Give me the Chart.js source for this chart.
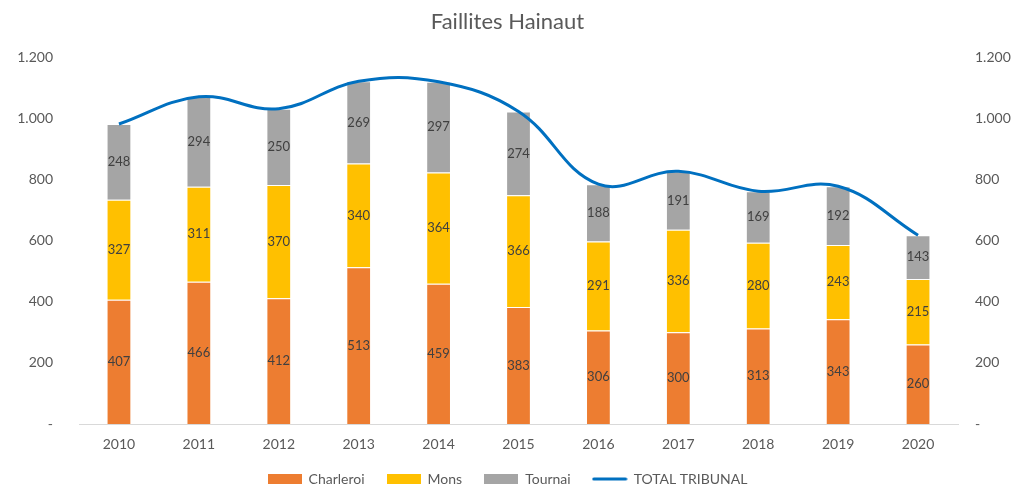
<!DOCTYPE html>
<html>
<head>
<meta charset="utf-8">
<script src="https://cdn.jsdelivr.net/npm/chart.js@4"></script>
<style>
  html, body { margin: 0; padding: 0; background: #fff; }
  canvas { display: block; }
</style>
</head>
<body>
<canvas id="chart" width="1015" height="488"></canvas>
<script>
/* ── data ── */
const YEARS     = ["2010", "2011", "2012", "2013", "2014", "2015", "2016", "2017", "2018", "2019", "2020"];
const CHARLEROI = [407, 466, 412, 513, 459, 383, 306, 300, 313, 343, 260];
const MONS      = [327, 311, 370, 340, 364, 366, 291, 336, 280, 243, 215];
const TOURNAI   = [248, 294, 250, 269, 297, 274, 188, 191, 169, 192, 143];
const TOTAL     = [982, 1071, 1032, 1122, 1120, 1023, 785, 827, 762, 778, 618];
const Y_TICKS   = [0, 200, 400, 600, 800, 1000, 1200];

/* ── palette ── */
const COLORS = {
  "Charleroi":      "#ED7D31",
  "Mons":           "#FFC000",
  "Tournai":        "#A5A5A5",
  "TOTAL TRIBUNAL": "#0070C0",
};

const FONT = "Lato, 'Open Sans', sans-serif";
Chart.defaults.font.family = FONT;
Chart.defaults.color = "#595959";

/* ── helpers ── */
function fmtTick(v) {
  if (v === 0) return "-";
  return v.toLocaleString("de-DE");
}

// legend icons: wide boxes for bars, a short stroke for the line
function boxIcon(color) {
  const c = document.createElement("canvas");
  c.width = 34; c.height = 10;
  const g = c.getContext("2d");
  g.fillStyle = color;
  g.fillRect(0, 0, 34, 10);
  return c;
}
function lineIcon(color) {
  const c = document.createElement("canvas");
  c.width = 36; c.height = 4;
  const g = c.getContext("2d");
  g.strokeStyle = color;
  g.lineWidth = 3;
  g.lineCap = "round";
  g.beginPath(); g.moveTo(2, 2); g.lineTo(34, 2); g.stroke();
  return c;
}
const LEGEND_ICONS = [
  boxIcon(COLORS["Charleroi"]),
  boxIcon(COLORS["Mons"]),
  boxIcon(COLORS["Tournai"]),
  lineIcon(COLORS["TOTAL TRIBUNAL"]),
];

/* ── plugins ── */
const segmentLabels = {
  id: "segmentLabels",
  afterDatasetsDraw(chart) {
    const ctx = chart.ctx;
    ctx.save();
    ctx.font = "13px " + FONT;
    ctx.fillStyle = "#404040";
    ctx.textAlign = "center";
    ctx.textBaseline = "middle";
    chart.data.datasets.forEach((ds, i) => {
      if (ds.type !== "bar") return;
      const meta = chart.getDatasetMeta(i);
      meta.data.forEach((el, j) => {
        const p = el.getProps(["x", "y", "base"], true);
        ctx.fillText(String(ds.data[j]), p.x, (p.y + p.base) / 2);
      });
    });
    ctx.restore();
  },
};

// keep the legend compact vertically while using a wide item gap
const legendHeight = {
  id: "legendHeight",
  afterInit(chart) {
    const lg = chart.legend;
    if (!lg || lg._patched) return;
    const fit = lg.fit.bind(lg);
    lg.fit = function () { fit(); this.height = 38; };
    lg._patched = true;
  },
};

/* ── chart ── */
new Chart(document.getElementById("chart").getContext("2d"), {
  data: {
    labels: YEARS,
    datasets: [
      { type: "bar", label: "Charleroi", data: CHARLEROI, backgroundColor: COLORS["Charleroi"],
        borderColor: "rgba(255,255,255,0.55)", borderWidth: 1, yAxisID: "y", order: 1 },
      { type: "bar", label: "Mons", data: MONS, backgroundColor: COLORS["Mons"],
        borderColor: "rgba(255,255,255,0.55)", borderWidth: 1, yAxisID: "y", order: 1 },
      { type: "bar", label: "Tournai", data: TOURNAI, backgroundColor: COLORS["Tournai"],
        borderColor: "rgba(255,255,255,0.55)", borderWidth: 1, yAxisID: "y", order: 1 },
      { type: "line", label: "TOTAL TRIBUNAL", data: TOTAL, borderColor: COLORS["TOTAL TRIBUNAL"],
        backgroundColor: COLORS["TOTAL TRIBUNAL"], borderWidth: 3, tension: 0.4,
        pointRadius: 0, fill: false, yAxisID: "y1", order: 0 },
    ],
  },
  options: {
    responsive: false,
    animation: false,
    layout: { padding: 0 },
    datasets: { bar: { categoryPercentage: 1, barPercentage: 0.31 } },
    plugins: {
      title: {
        display: true,
        text: "Faillites Hainaut",
        color: "#595959",
        font: { size: 22, weight: "normal" },
        padding: { top: 9, bottom: 22 },
      },
      legend: {
        position: "bottom",
        labels: {
          usePointStyle: true,
          pointStyleWidth: 34,
          padding: 22,
          color: "#595959",
          font: { size: 14 },
          sort: (a, b) => a.datasetIndex - b.datasetIndex,
          generateLabels(chart) {
            const items = Chart.defaults.plugins.legend.labels.generateLabels(chart);
            items.forEach(it => { it.pointStyle = LEGEND_ICONS[it.datasetIndex]; });
            return items;
          },
        },
      },
      tooltip: { enabled: false },
    },
    scales: {
      x: {
        stacked: true,
        grid: { display: false, drawTicks: false },
        border: { display: true, color: "#D9D9D9", width: 1 },
        ticks: { padding: 12, color: "#595959", font: { size: 14 } },
        afterFit: s => { s.height = 26; },
      },
      y: {
        stacked: true,
        position: "left",
        min: 0, max: 1200,
        afterBuildTicks: s => { s.ticks = Y_TICKS.map(v => ({ value: v })); },
        grid: { display: false, drawTicks: false },
        border: { display: false },
        ticks: { padding: 26, color: "#595959", font: { size: 14 }, callback: fmtTick },
        afterFit: s => { s.width = 79; },
      },
      y1: {
        position: "right",
        min: 0, max: 1200,
        afterBuildTicks: s => { s.ticks = Y_TICKS.map(v => ({ value: v })); },
        grid: { display: false, drawTicks: false },
        border: { display: false },
        ticks: { padding: 17, color: "#595959", font: { size: 14 }, callback: fmtTick },
        afterFit: s => { s.width = 57; },
      },
    },
  },
  plugins: [segmentLabels, legendHeight],
});
</script>
</body>
</html>
